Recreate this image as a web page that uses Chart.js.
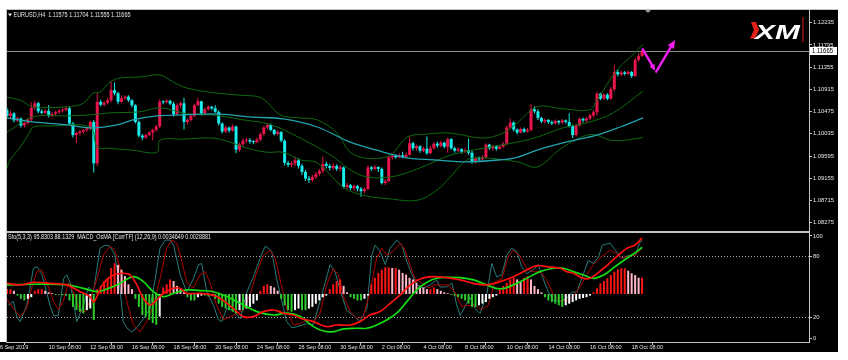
<!DOCTYPE html>
<html><head><meta charset="utf-8">
<script src="https://cdn.jsdelivr.net/npm/chart.js@4.4.1/dist/chart.umd.min.js"></script>
<style>
html,body{margin:0;padding:0;background:#fff;}
#wrap{position:relative;width:848px;height:360px;overflow:hidden;}
canvas{position:absolute;left:0;top:0;}
</style></head><body>
<div id="wrap"><canvas id="main" width="848" height="360"></canvas><canvas id="sub" width="848" height="360"></canvas></div>
<script>
// ---------------- DATA ----------------
const SYMBOL = 'EURUSD,H4';
const BAR_START = 2; // index of first visible H4 bar (6 Sep 2019 00:00 = 0)
const OPEN = [
1.1051,1.1039,1.1044,1.1030,1.1034,1.1020,1.1025,1.1032,1.1055,1.1064,
1.1048,1.1045,1.1049,1.1040,1.1043,1.1046,1.1049,1.1051,1.1054,1.1024,
1.1001,1.1005,1.1008,1.1011,1.1014,1.1027,1.0945,1.1067,1.1061,1.1065,
1.1070,1.1090,1.1084,1.1067,1.1074,1.1077,1.1070,1.1060,1.1027,1.1000,
1.0996,1.1001,1.1006,1.1011,1.1018,1.1067,1.1066,1.1069,1.1063,1.1042,
1.1060,1.1064,1.1027,1.1031,1.1039,1.1060,1.1068,1.1044,1.1052,1.1057,
1.1054,1.1047,1.1024,1.1008,1.1016,1.1010,1.1018,1.0972,1.0983,1.0990,
1.0991,1.0988,1.0987,1.0992,1.1003,1.1016,1.1021,1.1011,1.1003,1.1007,
1.0990,1.0946,1.0942,1.0945,1.0951,1.0940,1.0928,1.0915,1.0912,1.0918,
1.0924,1.0930,1.0944,1.0940,1.0936,1.0940,1.0934,1.0937,1.0898,1.0902,
1.0896,1.0900,1.0895,1.0890,1.0894,1.0937,1.0934,1.0938,1.0934,1.0906,
1.0910,1.0957,1.0960,1.0957,1.0961,1.0958,1.0962,1.0985,1.0975,1.0979,
1.0970,1.0974,1.0965,1.0975,1.0984,1.0980,1.0986,1.0978,1.0993,1.0975,
1.0970,1.0973,1.0968,1.0971,1.0966,1.0948,1.0955,1.0953,1.0957,1.0982,
1.0975,1.0979,1.0974,1.0978,1.0984,1.1016,1.1026,1.1012,1.1006,1.1013,
1.1008,1.1011,1.1052,1.1048,1.1035,1.1028,1.1031,1.1027,1.1024,1.1029,
1.1026,1.1030,1.1027,1.1019,1.1001,1.1020,1.1033,1.1030,1.1034,1.1040,
1.1046,1.1083,1.1073,1.1081,1.1073,1.1092,1.1126,1.1121,1.1125,1.1122,
1.1126,1.1118,1.1150,1.11575];
const HIGH = [
1.1055,1.1049,1.1046,1.1038,1.1036,1.1028,1.1035,1.1066,1.1069,1.1067,
1.1052,1.1052,1.1060,1.1046,1.1049,1.1052,1.1054,1.1058,1.1057,1.1027,
1.1007,1.1011,1.1013,1.1016,1.1030,1.1031,1.1084,1.1071,1.1068,1.1075,
1.1107,1.1105,1.1087,1.1080,1.1080,1.1080,1.1072,1.1062,1.1030,1.1003,
1.1004,1.1009,1.1014,1.1021,1.1072,1.1070,1.1072,1.1071,1.1067,1.1064,
1.1067,1.1075,1.1034,1.1042,1.1063,1.1075,1.1069,1.1055,1.1060,1.1059,
1.1060,1.1050,1.1026,1.1020,1.1018,1.1022,1.1020,1.0986,1.0994,1.0995,
1.0995,1.0991,1.0996,1.1006,1.1019,1.1025,1.1024,1.1013,1.1010,1.1009,
1.0992,1.0950,1.0949,1.0958,1.0955,1.0944,1.0932,1.0920,1.0922,1.0928,
1.0934,1.0958,1.0948,1.0944,1.0945,1.0943,1.0941,1.0939,1.0906,1.0904,
1.0903,1.0902,1.0898,1.0898,1.0941,1.0940,1.0942,1.0939,1.0937,1.0914,
1.0960,1.0963,1.0963,1.0965,1.0968,1.0966,1.0998,1.0988,1.0982,1.0981,
1.0978,1.0998,1.0980,1.0987,1.0988,1.0990,1.0988,1.0996,1.0995,1.0978,
1.0977,1.0975,1.0975,1.0994,1.0970,1.0958,1.0959,1.0961,1.0985,1.0984,
1.0982,1.0981,1.0982,1.0987,1.1020,1.1034,1.1028,1.1014,1.1016,1.1016,
1.1015,1.1063,1.1058,1.1052,1.1037,1.1034,1.1033,1.1030,1.1032,1.1031,
1.1033,1.1032,1.1044,1.1022,1.1023,1.1036,1.1036,1.1037,1.1043,1.1050,
1.1087,1.1085,1.1084,1.1084,1.1096,1.1140,1.1131,1.1128,1.1128,1.1129,
1.1128,1.1153,1.1163,1.11704];
const LOW = [
1.1035,1.1034,1.1026,1.1027,1.1016,1.1016,1.1022,1.1028,1.1050,1.1044,
1.1042,1.1042,1.1036,1.1036,1.1040,1.1043,1.1046,1.1048,1.1022,1.0996,
1.0985,1.1000,1.1004,1.1007,1.1010,1.0927,1.0940,1.1058,1.1058,1.1062,
1.1066,1.1080,1.1062,1.1065,1.1071,1.1067,1.1056,1.1024,1.0996,1.0991,
1.0993,1.0999,1.0991,1.1008,1.1015,1.1062,1.1064,1.1060,1.1038,1.1040,
1.1055,1.1012,1.1022,1.1028,1.1037,1.1058,1.1040,1.1042,1.1049,1.1050,
1.1045,1.1020,1.1004,1.1005,1.1006,1.1008,1.0965,1.0968,1.0978,1.0985,
1.0984,1.0983,1.0985,1.0989,1.1000,1.1012,1.1008,1.1000,1.1000,1.0987,
1.0941,1.0938,1.0937,1.0940,1.0935,1.0922,1.0910,1.0906,1.0908,1.0914,
1.0920,1.0926,1.0935,1.0931,1.0932,1.0930,1.0929,1.0895,1.0894,1.0892,
1.0891,1.0890,1.0879,1.0886,1.0892,1.0930,1.0931,1.0928,1.0903,1.0902,
1.0908,1.0952,1.0954,1.0955,1.0955,1.0956,1.0960,1.0970,1.0970,1.0966,
1.0967,1.0962,1.0963,1.0972,1.0976,1.0977,1.0975,1.0966,1.0972,1.0966,
1.0967,1.0964,1.0966,1.0962,1.0944,1.0945,1.0948,1.0950,1.0954,1.0972,
1.0971,1.0970,1.0972,1.0976,1.0981,1.1013,1.1008,1.1002,1.1004,1.1005,
1.1006,1.1008,1.1044,1.1031,1.1025,1.1024,1.1023,1.1021,1.1022,1.1022,
1.1023,1.1024,1.1016,1.0995,1.0998,1.1018,1.1026,1.1027,1.1031,1.1036,
1.1040,1.1070,1.1071,1.1070,1.1071,1.1088,1.1117,1.1118,1.1119,1.1120,
1.1114,1.1116,1.1146,1.11555];
const CLOSE = [
1.1039,1.1044,1.1030,1.1034,1.1020,1.1025,1.1032,1.1055,1.1064,1.1048,
1.1045,1.1049,1.1040,1.1043,1.1046,1.1049,1.1051,1.1054,1.1024,1.1001,
1.1005,1.1008,1.1011,1.1014,1.1027,1.0945,1.1067,1.1061,1.1065,1.1070,
1.1090,1.1084,1.1067,1.1074,1.1077,1.1070,1.1060,1.1027,1.1000,1.0996,
1.1001,1.1006,1.1011,1.1018,1.1067,1.1066,1.1069,1.1063,1.1042,1.1060,
1.1064,1.1027,1.1031,1.1039,1.1060,1.1068,1.1044,1.1052,1.1057,1.1054,
1.1047,1.1024,1.1008,1.1016,1.1010,1.1018,1.0972,1.0983,1.0990,1.0991,
1.0988,1.0987,1.0992,1.1003,1.1016,1.1021,1.1011,1.1003,1.1007,1.0990,
1.0946,1.0942,1.0945,1.0951,1.0940,1.0928,1.0915,1.0912,1.0918,1.0924,
1.0930,1.0944,1.0940,1.0936,1.0940,1.0934,1.0937,1.0898,1.0902,1.0896,
1.0900,1.0895,1.0890,1.0894,1.0937,1.0934,1.0938,1.0934,1.0906,1.0910,
1.0957,1.0960,1.0957,1.0961,1.0958,1.0962,1.0985,1.0975,1.0979,1.0970,
1.0974,1.0965,1.0975,1.0984,1.0980,1.0986,1.0978,1.0993,1.0975,1.0970,
1.0973,1.0968,1.0971,1.0966,1.0948,1.0955,1.0953,1.0957,1.0982,1.0975,
1.0979,1.0974,1.0978,1.0984,1.1016,1.1026,1.1012,1.1006,1.1013,1.1008,
1.1011,1.1052,1.1048,1.1035,1.1028,1.1031,1.1027,1.1024,1.1029,1.1026,
1.1030,1.1027,1.1019,1.1001,1.1020,1.1033,1.1030,1.1034,1.1040,1.1046,
1.1083,1.1073,1.1081,1.1073,1.1092,1.1126,1.1121,1.1125,1.1122,1.1126,
1.1118,1.1150,1.11575,1.11665];

// Bollinger bands (20) and teal moving average, read at sample bars
const UPPER_X = [2,5.8,9.5,19.3,24,26.8,28.8,31.7,34.6,40.3,46.1,49.9,53.9,62.5,69.2,75.5,80.7,86.5,91.4,97.1,100.9,105.8,112.4,117.3,123,129.7,139.2,145,149,154.8,162.2,170,172,177.8,181.6,185.3];
const UPPER_BAND = [1.1076,1.1070,1.1057,1.1057,1.1064,1.1084,1.1086,1.1106,1.1114,1.1116,1.1120,1.1106,1.1094,1.1084,1.1080,1.1074,1.1041,1.1035,1.1031,1.1005,1.0967,1.0955,1.0961,1.0997,1.1003,1.1005,1.0995,1.1005,1.1025,1.1057,1.1053,1.1051,1.1070,1.1130,1.1155,1.1181];
const MIDDLE_X = [2,9.5,19.3,26,31.7,40.3,46.1,53.9,62.5,69.2,77.8,86.5,95.1,103.7,112.4,121,129.7,139.2,149,154.8,162,170,176.7,185.3];
const MIDDLE_BAND = [1.1007,1.1037,1.1039,1.1041,1.1045,1.1047,1.1055,1.1043,1.1040,1.1032,1.1022,1.0995,1.0962,1.0922,1.0918,1.0936,1.0961,1.0975,1.0987,1.0997,1.1015,1.1027,1.1045,1.1088];
const LOWER_X = [2,2.9,5.8,8.6,9.5,14.4,25.9,28,30.8,38.3,45.2,46.1,52.7,61.4,67.1,71.2,76.9,81.6,86.5,91.4,98.8,104.6,112,120.2,125.9,129.7,134.6,139.2,149,154.8,162,170,176.7,184.4,185.3];
const LOWER_BAND = [1.0936,1.0952,1.0977,1.1007,1.1017,1.1019,1.1017,1.0977,1.0975,1.0971,1.0967,1.0991,1.0993,1.0995,1.0985,1.0975,1.0967,1.0967,1.0952,1.0946,1.0898,1.0882,1.0875,1.0872,1.0892,1.0918,1.0952,1.0956,1.0948,1.0938,1.0976,1.1002,1.0990,1.0995,1.0997];
const MA_X = [2,9.5,19.3,26.8,33.7,38.3,45.2,52.7,62.5,72,81.6,91.4,100.9,108.6,117.3,124.8,134.6,144.1,149,155.6,164.3,172,178.7,185.3];
const MA_TEAL = [1.1035,1.1027,1.1021,1.1015,1.1021,1.1031,1.1039,1.1041,1.1043,1.1037,1.1033,1.1017,1.0987,1.0971,1.0956,1.0952,1.0948,1.0952,1.0957,1.0973,1.0989,1.1001,1.1017,1.1035];

// Stochastic (5,3,3)
const STO_MAIN_X = [2.4,3.8,4.8,5.8,7.7,9.6,10.6,12,13.4,14.4,15.4,16.8,18.3,19.2,20.2,22.1,24,25.5,26.9,28.8,30.3,31.7,33.1,34.6,35.5,36.5,37.9,39.4,41.3,43.2,44.7,46.1,47.6,49,50,51.9,53.8,55.7,57.2,58.1,59.6,61.5,62.9,63.9,65.3,67.2,69.2,71.1,73,74.9,76.4,77.3,78.3,79.7,81.2,82.6,84.1,85.5,88.4,90.3,92.2,95.1,96.5,98,99.9,101.8,103.7,105.7,107.1,108.1,109.5,111,112.4,114.3,115.8,117.2,118.6,120.1,122,123.9,125.8,126.8,128.7,130.2,131.6,132.6,134,135.4,136.9,138.3,140.2,141.7,143.1,144.6,146,147.4,148.9,150.3,151.8,153.7,155.1,156.6,158,159.5,161.4,163.3,164.7,166.2,168,169.5,171,172.5,173.5,175.8,177.3,179.2,181.1,183,184.3,185];
const STO_MAIN = [32,36,21,16,32,68,70,63,45,32,22,22,58,62,54,16,32,50,45,88,91,90,81,47,16,10,6,10,19,29,58,88,96,96,91,62,45,58,72,73,45,32,18,16,29,27,19,45,60,78,90,88,85,58,36,16,10,11,14,13,36,72,65,47,27,22,16,29,81,91,85,72,88,96,91,75,63,52,49,52,57,50,50,54,32,22,31,40,29,24,42,73,60,62,81,88,85,70,63,67,72,57,45,37,36,39,45,45,62,76,73,80,91,93,86,78,81,81,93,95.83];
const STO_SIG_X = [1.9,3.8,5.8,7.7,9.1,10.6,12,13.4,15.4,16.8,18.3,19.7,21.1,23.1,24.5,25.9,27.9,29.8,31.7,33.1,34.6,36.5,38.4,40.3,42.3,44.2,46.1,48,49.5,50.9,52.4,53.8,55.7,57.6,59.1,60.5,62.4,64.4,66.3,68.2,70.1,72,74,75.9,77.8,79.3,80.7,82.6,84.5,86.5,88.4,90.3,92.2,94.1,96,97.5,98.9,100.9,102.8,104.7,106.6,108.5,110,111.4,113.3,115.3,116.7,118.1,119.6,121.5,123.4,125.4,127.3,129.2,131.1,133,135,136.9,138.8,140.7,142.6,144.6,146.5,147.9,149.9,151.8,153.7,155.6,157.5,159.5,161.4,163.3,165.2,167.1,169.1,171,173.4,175.8,177.7,179.2,181.1,183,185];
const STO_SIG = [39,29,21,29,49,65,67,55,36,28,37,54,45,26,26,36,58,81,90,86,68,36,13,6,16,32,58,88,96,93,75,55,49,62,65,54,32,18,21,24,28,42,65,81,86,78,57,29,13,14,18,16,24,52,68,62,41,26,19,21,45,78,88,81,85,93,86,72,58,54,49,52,52,52,45,31,32,32,28,32,55,58,80,86,80,68,65,65,57,42,36,37,41,50,62,72,80,86,83,78,80,81,88.13];

// MACD_OsMA (12,26,9), values in units of 1e-4
const MACD_X = [1.9,5.8,9.6,14.4,19.2,23.1,25.9,26.9,27.9,29.8,32.7,35.5,37.5,39.4,41.3,43.2,45.1,47.1,50,51.9,53.8,57.6,62.4,67.2,70.1,73,75.9,78.8,81.7,84.5,86.5,90.3,94.1,97,100.9,103.7,106.6,109.5,112.4,115.3,118.2,121,124.9,128.7,132.6,136.4,140.2,144.1,147.9,151.8,154.7,157.5,161.4,163.3,165.2,168.1,170,173.9,177.7,180.6,183,185];
const MACD_MAIN = [6.6,5.6,7.2,6.6,5.6,1.4,-1.6,-5,-1.6,6.6,11.7,12.8,11.7,5.6,-2.7,-6.8,-3.7,0.4,3.5,3.5,0.4,0.4,-1.6,-8.9,-14,-14,-10.9,-9.9,-11.9,-13,-15,-17.1,-20.2,-19.2,-19.2,-17.1,-13,-10.9,-5.8,-0.6,5.6,9.3,10.7,10.1,8.7,6.6,5.6,7.6,10.7,14.8,17.5,16.9,15.9,13.8,12.8,9.7,9.7,15.9,23.1,28.2,30.3,34.65];
const SIGNAL_X = [1.9,9.6,19.2,24,27.9,30.7,34.6,38.4,41.3,44.2,47.1,50,53.8,57.6,61.5,65.3,69.2,74,78.8,82.6,86.5,90.3,93.2,96.1,99,102.8,105.7,108.5,111.4,114.3,117.2,120.1,123,125.8,128.7,132.6,136.4,140.2,144.1,147.9,151.8,155.6,159.5,162.3,165.2,168.1,171,173.9,177.2,180.6,183.5,185];
const MACD_SIGNAL = [5.6,6,5.6,3.5,1.5,3,6.6,10.7,7.6,1.4,-1.6,0.4,2.5,2.1,1.4,-1.6,-5.8,-10.9,-13,-11.9,-14,-20.2,-22.9,-23.3,-21.6,-21.2,-21.2,-19.2,-16.1,-11.9,-4.7,2.5,7.2,9.7,10.3,10.1,8.7,5.6,3.1,5.6,9.7,13.8,15.9,15.9,13.8,11.7,9.7,11.7,16.9,22,26.2,28.88];
const OSMA = [
3,3,2,-1,-3,-4,-3,-2,2,3,
3,2,1,0.5,-0.5,-0.5,-0.8,-1,-4,-8,
-10,-11,-12,-10,-9,-16,3,5,8,10,
16,19,18,15,11,6,3,-3,-8,-13,
-14,-16,-18,-19,-14,4,6,9,8,5,
3,1,-2,-4,-4,-2,-1,-1,-1.5,-1,
-3,-6,-8,-9,-10,-11,-12,-10,-10,-9,
-8,-6,-4,2,5,6,5,4,2,-3,
-7,-10,-11,-10,-9,-10,-10,-9,-8,-6,
-4,-2,-1,3,6,8,9,5,1,-2,
-3,-4,-4,-3,-1,6,10,13,15,16.5,
16.5,16,16,15,13,12,10,9,7,5,
4,3,3,4,3,2,1,0.5,-0.5,-1,
-2,-3,-4,-6,-8,-8,-7,-6,-5,-3,
-2,-1,3,5,7,9,10,9,8,10,
11,9,5,3,1,-2,-4,-5,-6,-7,
-8,-7,-6,-5,-4,-3,-2.5,-2,-1,1,
3.5,6.6,8,9.7,11.7,13.8,15.2,15.9,15.9,14.4,
12.8,11.7,10.1,10.1];

const PRICE_TICKS = [1.08275,1.08715,1.09155,1.09595,1.10035,1.10475,1.10915,1.11355,1.11795,1.12235];
const STO_TICKS = [0,20,80,100];
const DATE_TICKS = [0,14,26,38,50,62,74,86,98,110,122,134,146,158,170,182];
const DATE_LABELS = ['6 Sep 2019','10 Sep 08:00','12 Sep 08:00','16 Sep 08:00','18 Sep 08:00','20 Sep 08:00','24 Sep 08:00','26 Sep 08:00','30 Sep 08:00','2 Oct 08:00','4 Oct 08:00','8 Oct 08:00','10 Oct 08:00','14 Oct 08:00','16 Oct 08:00','18 Oct 08:00'];
const SUB_TITLE = 'Sto(5,3,3) 95.8303 88.1329  MACD_OsMA [CurrTF] (12,26,9) 0.0034649 0.0028881';
const ARROW_PATH = [[185.2,1.11708],[188.8,1.11284],[194.5,1.11892]];

// ---------------- VIEW / STYLE ----------------
const X_MIN = 2.0, X_MAX = 233.1;
const PRICE_MIN = 1.08111, PRICE_MAX = 1.12506;
const STO_MIN = -3.92, STO_MAX = 102.94;
const OSMA_MIN = -29.7, OSMA_MAX = 37.7;
const FONT = "'Liberation Sans',Arial,sans-serif";
const COL = {
  page:'#ffffff', panel:'#000000', frame:'#c4c4c4', text:'#e6e6e6',
  bull:'#e8154d', bear:'#18ecec', band:'#0d6a12', ma:'#22a4ae', priceLine:'#8a8a8a',
  level:'#a0a0a0', macd:'#ff0f0f', signal:'#12e012', stoMain:'#2a7b7b', stoSig:'#b00000',
  histUpPos:'#ff1414', histDnPos:'#ffb8c8', histDnNeg:'#2ccc2c', histUpNeg:'#ffffff',
  arrow:'#f01ef0', logoRed:'#e3211b'
};

const xs = OPEN.map((_, k) => BAR_START + k);
const candleColor = xs.map((_, k) => CLOSE[k] >= OPEN[k] ? COL.bull : COL.bear);
const pts = (X, Y) => X.map((x, k) => ({x, y: Y[k]}));
const histColor = OSMA.map((v, k) => {
  const p = k > 0 ? OSMA[k-1] : v;
  if (v >= 0) return v >= p ? COL.histUpPos : COL.histDnPos;
  return v <= p ? COL.histDnNeg : COL.histUpNeg;
});
const lineDS = (data, color, width, tension, order, yAxisID) => ({
  type:'line', data, borderColor:color, borderWidth:width, pointRadius:0, tension,
  fill:false, order, yAxisID, xAxisID:'x', spanGaps:true
});
const tickFont = size => ({family: FONT, size});
// draw a text squeezed/stretched to a given width (MT4 uses a narrow Tahoma)
function fitText(c, text, x, y, width, size) {
  c.save();
  c.font = `${size}px ${FONT}`;
  const w = c.measureText(text).width;
  c.translate(x, y); c.scale(width / w, 1);
  c.fillText(text, 0, 0);
  c.restore();
}

// ---------------- MAIN PRICE CHART ----------------
const mainPlugin = {
  id:'mtMain',
  beforeDraw(chart) {
    const c = chart.ctx;
    c.save();
    c.fillStyle = COL.page; c.fillRect(0, 0, 848, 360);
    c.fillStyle = COL.panel; c.fillRect(0, 9, 838, 343);
    c.fillStyle = COL.page; c.fillRect(0, 9, 6, 333);
    c.restore();
  },
  beforeDatasetsDraw(chart) {
    const c = chart.ctx, a = chart.chartArea;
    const y = Math.round(chart.scales.y.getPixelForValue(CLOSE[CLOSE.length-1])) + 0.5;
    c.save(); c.strokeStyle = COL.priceLine; c.lineWidth = 1;
    c.beginPath(); c.moveTo(a.left, y); c.lineTo(a.right, y); c.stroke(); c.restore();
  },
  afterDraw(chart) {
    const c = chart.ctx, a = chart.chartArea, xS = chart.scales.x, yS = chart.scales.y;
    c.save();
    // current price box
    const last = CLOSE.length - 1;
    const py = Math.round(yS.getPixelForValue(CLOSE[last]));
    c.fillStyle = '#ffffff'; c.fillRect(a.right + 1, py - 4, 27, 8);
    c.fillStyle = '#000000'; c.textBaseline = 'middle'; c.textAlign = 'left';
    fitText(c, CLOSE[last].toFixed(5), a.right + 3, py + 0.5, 21, 7);
    // title
    c.fillStyle = COL.text;
    c.beginPath(); c.moveTo(8, 13.5); c.lineTo(12, 13.5); c.lineTo(10, 16.5); c.closePath(); c.fill();
    fitText(c, `${SYMBOL}  ${OPEN[last].toFixed(5)} ${HIGH[last].toFixed(5)} ${LOW[last].toFixed(5)} ${CLOSE[last].toFixed(5)}`, 13.5, 15, 117, 7);
    // chart shift marker
    c.fillStyle = '#9a9a9a';
    c.beginPath(); c.moveTo(645, 10); c.lineTo(651, 10); c.lineTo(648, 13); c.closePath(); c.fill();
    // XM logo
    c.fillStyle = COL.logoRed;
    c.beginPath(); c.moveTo(751, 22); c.lineTo(756, 22); c.lineTo(759, 30); c.lineTo(755, 38.5); c.lineTo(750, 38.5); c.lineTo(754, 30); c.closePath(); c.fill();
    c.save(); c.translate(755, 38.5); c.scale(1.42, 1);
    c.fillStyle = '#ffffff'; c.font = `italic bold 21px 'Liberation Sans',Arial,sans-serif`; c.textBaseline = 'alphabetic';
    c.fillText('XM', 0, 0); c.restore();
    c.fillStyle = COL.logoRed; c.fillRect(802.5, 17, 1, 25);
    // magenta arrows
    const P = ARROW_PATH.map(([i, p]) => [xS.getPixelForValue(i), yS.getPixelForValue(p)]);
    c.strokeStyle = COL.arrow; c.fillStyle = COL.arrow; c.lineWidth = 2.4; c.lineCap = 'round';
    const arrow = (x1, y1, x2, y2, h) => {
      const ang = Math.atan2(y2 - y1, x2 - x1);
      const bx = x2 - h * 0.8 * Math.cos(ang), by = y2 - h * 0.8 * Math.sin(ang);
      c.beginPath(); c.moveTo(x1, y1); c.lineTo(bx, by); c.stroke();
      c.beginPath(); c.moveTo(x2, y2);
      c.lineTo(x2 - h * Math.cos(ang - 0.42), y2 - h * Math.sin(ang - 0.42));
      c.lineTo(x2 - h * Math.cos(ang + 0.42), y2 - h * Math.sin(ang + 0.42));
      c.closePath(); c.fill();
    };
    arrow(P[0][0], P[0][1], P[1][0], P[1][1], 7);
    arrow(P[1][0] + 1, P[1][1] + 1, P[2][0], P[2][1], 9);
    c.restore();
  }
};

new Chart(document.getElementById('main'), {
  type:'bar',
  data:{ datasets:[
    lineDS(pts(UPPER_X, UPPER_BAND), COL.band, 1, 0.35, 1, 'y'),
    lineDS(pts(MIDDLE_X, MIDDLE_BAND), COL.band, 1, 0.35, 1, 'y'),
    lineDS(pts(LOWER_X, LOWER_BAND), COL.band, 1, 0.35, 1, 'y'),
    lineDS(pts(MA_X, MA_TEAL), COL.ma, 1.3, 0.35, 0, 'y'),
    { type:'bar', data: xs.map((x, k) => ({x, y:[LOW[k], HIGH[k]]})), backgroundColor: candleColor,
      barThickness:1, grouped:false, inflateAmount:0, order:6, xAxisID:'x', yAxisID:'y' },
    { type:'bar', data: xs.map((x, k) => ({x, y:[OPEN[k], CLOSE[k]]})), backgroundColor: candleColor,
      barThickness:3, minBarLength:1, grouped:false, inflateAmount:0, order:5, xAxisID:'x', yAxisID:'y' }
  ]},
  options:{
    responsive:false, animation:false, devicePixelRatio:1, events:[],
    layout:{ padding:{ left:7, right:10, top:9, bottom:129 } },
    plugins:{ legend:{display:false}, tooltip:{enabled:false} },
    scales:{
      x:{ type:'linear', min:X_MIN, max:X_MAX, offset:false, display:false },
      y:{ type:'linear', position:'right', min:PRICE_MIN, max:PRICE_MAX, beginAtZero:false,
        afterBuildTicks: s => { s.ticks = PRICE_TICKS.map(v => ({value:v})); },
        afterFit: s => { s.width = 29; },
        grid:{ drawOnChartArea:false, drawTicks:true, tickLength:3, tickColor:COL.frame, color:COL.frame },
        border:{ display:false },
        ticks:{ color:COL.text, font:tickFont(5.8), padding:1, autoSkip:false, callback: v => Number(v).toFixed(5) }
      }
    }
  },
  plugins:[mainPlugin]
});

// ---------------- INDICATOR SUB-WINDOW ----------------
const subPlugin = {
  id:'mtSub',
  afterDraw(chart) {
    const c = chart.ctx, a = chart.chartArea;
    c.save();
    c.fillStyle = COL.text; c.textBaseline = 'middle'; c.textAlign = 'left';
    fitText(c, SUB_TITLE, 8, 237.5, 203, 7);
    // frames
    c.strokeStyle = COL.frame; c.lineWidth = 1;
    c.beginPath();
    c.moveTo(6.5, 9); c.lineTo(6.5, 342.5);
    c.moveTo(6, 9.5); c.lineTo(838, 9.5);
    c.moveTo(a.right + 0.5, 9); c.lineTo(a.right + 0.5, 343);
    c.moveTo(6.5, 342.5); c.lineTo(a.right + 0.5, 342.5);
    c.stroke();
    c.fillStyle = COL.frame; c.fillRect(6, 231, a.right - 6 + 1, 2);
    c.restore();
  }
};

new Chart(document.getElementById('sub'), {
  type:'bar',
  data:{ datasets:[
    lineDS(pts(STO_MAIN_X, STO_MAIN), COL.stoMain, 1, 0, 4, 'sto'),
    lineDS(pts(STO_SIG_X, STO_SIG), COL.stoSig, 1, 0, 3, 'sto'),
    { type:'bar', data: xs.map((x, k) => ({x, y:OSMA[k]})), backgroundColor: histColor,
      barThickness:2, grouped:false, inflateAmount:0, order:2, xAxisID:'x', yAxisID:'osma' },
    lineDS(pts(SIGNAL_X, MACD_SIGNAL), COL.signal, 1.7, 0.4, 1, 'osma'),
    lineDS(pts(MACD_X, MACD_MAIN), COL.macd, 1.7, 0.4, 0, 'osma')
  ]},
  options:{
    responsive:false, animation:false, devicePixelRatio:1, events:[],
    layout:{ padding:{ left:7, right:10, top:233, bottom:0 } },
    plugins:{ legend:{display:false}, tooltip:{enabled:false} },
    scales:{
      x:{ type:'linear', position:'bottom', min:X_MIN, max:X_MAX, offset:false,
        afterBuildTicks: s => { s.ticks = DATE_TICKS.map(v => ({value:v})); },
        afterFit: s => { s.height = 18; s.paddingLeft = 0; s.paddingRight = 0; },
        grid:{ drawOnChartArea:false, drawTicks:true, tickLength:3, tickColor:COL.frame, color:COL.frame },
        border:{ display:false },
        ticks:{ color:COL.text, font:tickFont(5.5), padding:-1, autoSkip:false, maxRotation:0, minRotation:0,
          align:'start', callback:(v, i) => DATE_LABELS[i] }
      },
      sto:{ type:'linear', position:'right', min:STO_MIN, max:STO_MAX, beginAtZero:false,
        afterBuildTicks: s => { s.ticks = STO_TICKS.map(v => ({value:v})); },
        afterFit: s => { s.width = 29; },
        grid:{ drawOnChartArea:true, drawTicks:true, tickLength:3, tickColor:COL.frame,
          color: ctx => (ctx.tick && (ctx.tick.value === 20 || ctx.tick.value === 80)) ? COL.level : 'rgba(0,0,0,0)' },
        border:{ display:false, dash:[1,2] },
        ticks:{ color:COL.text, font:tickFont(5.8), padding:1, autoSkip:false }
      },
      osma:{ type:'linear', display:false, min:OSMA_MIN, max:OSMA_MAX, beginAtZero:false }
    }
  },
  plugins:[subPlugin]
});
</script>
</body></html>
